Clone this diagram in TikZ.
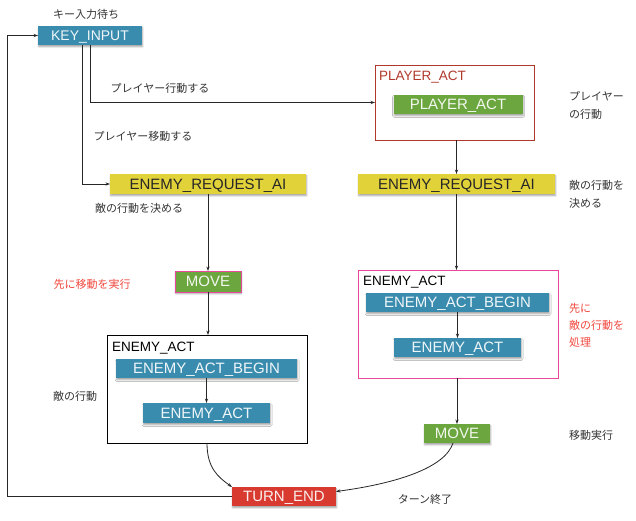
\documentclass[tikz,border=0pt]{standalone}
\usepackage{fontspec}
\setmainfont{Liberation Sans}
\newfontfamily\jp{Noto Sans CJK JP}
\usetikzlibrary{arrows.meta,shadows.blur}
\definecolor{cblue}{HTML}{3A8CAE}
\definecolor{cyellow}{HTML}{E2D23A}
\definecolor{cgreen}{HTML}{6CA63E}
\definecolor{cred}{HTML}{D93A30}
\definecolor{cpink}{HTML}{E8489A}
\definecolor{cbrown}{HTML}{B0392C}
\definecolor{lred}{HTML}{F0463C}
\definecolor{ltxt}{HTML}{333333}
\begin{document}
\begin{tikzpicture}[x=1pt,y=-1pt,
  box/.style={rectangle,inner sep=0pt,outer sep=0pt,font=\fontsize{15}{15}\selectfont,
    text height=10.8pt,text depth=0pt,
    blur shadow={shadow xshift=0.6pt,shadow yshift=-1.8pt,shadow blur radius=1.6pt,shadow opacity=35}},
  bluebox/.style={box,fill=cblue,text=white!92!cblue},
  yelbox/.style={box,fill=cyellow,text=black!85},
  grnbox/.style={box,fill=cgreen,text=white!92!cgreen},
  redbox/.style={box,fill=cred,text=white!92!cred},
  group/.style={rectangle,draw,line width=0.9pt,inner sep=0pt,outer sep=0pt,fill=white},
  title/.style={anchor=west,inner sep=0pt,font=\fontsize{13.5}{13.5}\selectfont},
  lbl/.style={inner sep=0pt,text=ltxt,font=\jp\fontsize{11}{18}\selectfont},
  rlbl/.style={lbl,text=lred},
  arr/.style={-{Stealth[length=4.5pt,width=3.2pt]},line width=0.8pt,black!85},
]
\useasboundingbox (0,0) rectangle (636,521);

% groups
\node[group,draw=cbrown,minimum width=159pt,minimum height=75pt] (pabox) at (454.5,102.5) {};
\node[title,text=cbrown] (patitle) at (379,77) {PLAYER\_ACT};
\node[group,draw=black,minimum width=200pt,minimum height=108pt] (ea1box) at (207,389) {};
\node[title] (ea1title) at (112,348) {ENEMY\_ACT};
\node[group,draw=cpink,minimum width=200pt,minimum height=108pt] (ea2box) at (458,324) {};
\node[title] (ea2title) at (363,282) {ENEMY\_ACT};

% boxes
\node[bluebox,minimum width=104pt,minimum height=19pt,font=\fontsize{14}{14}\selectfont,text height=10pt] (key) at (90,35.5) {KEY\_INPUT};
\node[yelbox,minimum width=196pt,minimum height=20pt] (era1) at (208,184) {ENEMY\_REQUEST\_AI};
\node[grnbox,minimum width=129pt,minimum height=19pt] (pact) at (458,104.5) {PLAYER\_ACT};
\node[yelbox,minimum width=197pt,minimum height=20pt] (era2) at (456.5,184) {ENEMY\_REQUEST\_AI};
\node[grnbox,draw=cpink,line width=0.9pt,minimum width=66pt,minimum height=21pt] (move1) at (208,281.5) {MOVE};
\node[bluebox,minimum width=181pt,minimum height=19pt] (eab1) at (206.5,368.5) {ENEMY\_ACT\_BEGIN};
\node[bluebox,minimum width=127pt,minimum height=20pt] (eact1) at (206.5,413) {ENEMY\_ACT};
\node[bluebox,minimum width=183pt,minimum height=19pt] (eab2) at (457.5,302.5) {ENEMY\_ACT\_BEGIN};
\node[bluebox,minimum width=127pt,minimum height=19pt] (eact2) at (457.5,347.5) {ENEMY\_ACT};
\node[grnbox,minimum width=66pt,minimum height=19pt] (move2) at (457,433.5) {MOVE};
\node[redbox,minimum width=104pt,minimum height=19pt] (turn) at (284,496.5) {TURN\_END};

% labels
\node[lbl] (l1) at (86,14) {キー入力待ち};
\node[lbl] (l2) at (160,88) {プレイヤー行動する};
\node[lbl] (l3) at (143,136) {プレイヤー移動する};
\node[lbl] (l4) at (139,208) {敵の行動を決める};
\node[lbl,anchor=west,align=left] (l5) at (569,105) {プレイヤー\\の行動};
\node[lbl,anchor=west,align=left] (l6) at (569,194) {敵の行動を\\決める};
\node[rlbl] (l7) at (92,284) {先に移動を実行};
\node[lbl] (l8) at (75,396) {敵の行動};
\node[rlbl,anchor=west,align=left,font=\jp\fontsize{11}{17}\selectfont] (l9) at (569,325) {先に\\敵の行動を\\処理};
\node[lbl,anchor=west] (l10) at (569,435) {移動実行};
\node[lbl] (l11) at (425,499) {ターン終了};

% connectors
\coordinate (lp) at (7,0);
\draw[arr] (key.south) ++(-8,0) |- (era1.west);
\draw[arr] (key.south) |- (pabox.west);
\draw[arr] (era2.north |- pabox.south) -- (era2.north);
\draw[arr] (era1.south) -- (move1.north);
\draw[arr] (move1.south) -- (move1.south |- ea1box.north);
\draw[arr] (eab1.south) -- (eact1.north);
\draw[arr] (ea1box.south) .. controls +(0,25) and +(-14,-10) .. (turn.north west);
\draw[arr] (era2.south) -- (era2.south |- ea2box.north);
\draw[arr] (eab2.south) -- (eact2.north);
\draw[arr] (move2.south |- ea2box.south) -- (move2.north);
\draw[arr] ([xshift=-4pt]move2.south) .. controls +(-8,25) and +(60,-8) .. ([yshift=5pt]turn.east);
\draw[arr] (turn.west) -- (turn.west -| lp) |- (key.west);
\end{tikzpicture}
\end{document}
